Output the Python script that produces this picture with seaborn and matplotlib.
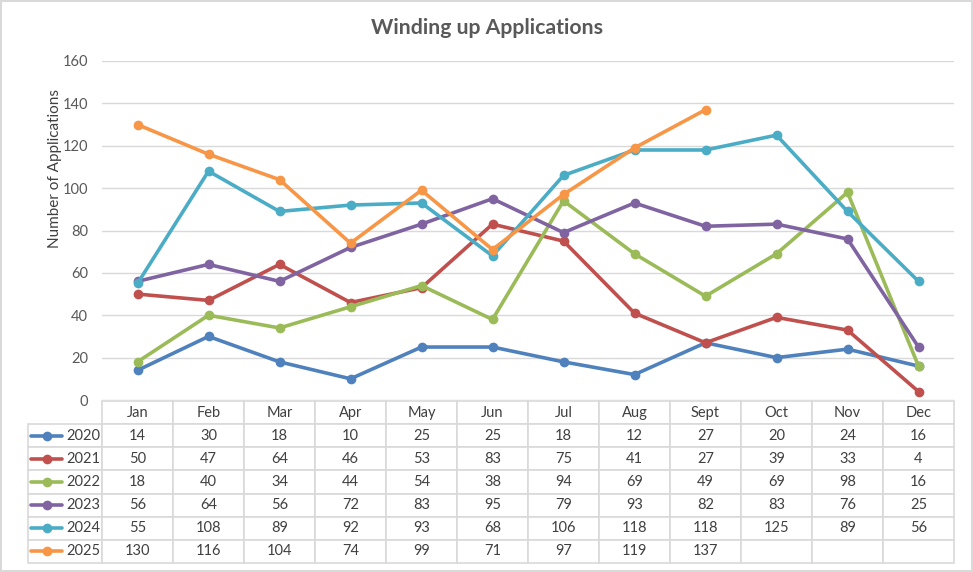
import numpy as np
import pandas as pd
import matplotlib
matplotlib.use("Agg")
import matplotlib.pyplot as plt
import seaborn as sns

months = ["Jan", "Feb", "Mar", "Apr", "May", "Jun", "Jul", "Aug", "Sept", "Oct", "Nov", "Dec"]
years = ["2020", "2021", "2022", "2023", "2024", "2025"]
v2020 = [14, 30, 18, 10, 25, 25, 18, 12, 27, 20, 24, 16]
v2021 = [50, 47, 64, 46, 53, 83, 75, 41, 27, 39, 33, 4]
v2022 = [18, 40, 34, 44, 54, 38, 94, 69, 49, 69, 98, 16]
v2023 = [56, 64, 56, 72, 83, 95, 79, 93, 82, 83, 76, 25]
v2024 = [55, 108, 89, 92, 93, 68, 106, 118, 118, 125, 89, 56]
v2025 = [130, 116, 104, 74, 99, 71, 97, 119, 137, np.nan, np.nan, np.nan]
yticks = [0, 20, 40, 60, 80, 100, 120, 140, 160]

colors = ["#4F81BD", "#C0504D", "#9BBB59", "#8064A2", "#4BACC6", "#F79646"]
series = [v2020, v2021, v2022, v2023, v2024, v2025]

rows = []
for yr, vals in zip(years, series):
    for i, v in enumerate(vals):
        rows.append({"year": yr, "pos": i, "value": v})
df = pd.DataFrame(rows)

sns.set_theme(style="white")
plt.rcParams["font.family"] = ["Lato", "DejaVu Sans"]
text_col = "#595959"

fig = plt.figure(figsize=(9.73, 5.72), dpi=100)
fig.patch.set_edgecolor("#D9D9D9")
fig.patch.set_linewidth(1.5)
ax = fig.add_axes([102 / 973, 172 / 572, 852 / 973, 339 / 572])

sns.lineplot(data=df, x="pos", y="value", hue="year", palette=colors,
             marker="o", markersize=7, markeredgewidth=0, linewidth=2.6,
             legend=False, ax=ax)

ax.set_xlim(-0.5, 11.5)
ax.set_ylim(0, 160)
ax.set_yticks(yticks)
ax.set_yticklabels([str(t) for t in yticks], color=text_col, fontsize=10.5)
ax.tick_params(axis="y", length=0, pad=10)
ax.set_xticks([])
ax.set_xlabel("")
ax.set_ylabel("Number of Applications", color="#404040", fontsize=11)
ax.yaxis.set_label_coords(-0.047, 0.684)
ax.grid(axis="y", color="#D9D9D9", linewidth=1)
for s in ax.spines.values():
    s.set_visible(False)

fig.suptitle("Winding up Applications", x=487 / 973, y=1 - 28 / 572, va="center",
             fontsize=15.3, fontweight="bold", color=text_col)

# data table below the axes
label_w = 74 / 926
col_w = 71 / 926
cell_text = []
for yr, vals in zip(years, series):
    cell_text.append([yr] + ["" if np.isnan(v) else str(int(v)) for v in vals])
tbl = ax.table(cellText=cell_text, colLabels=[""] + months, cellLoc="center",
               bbox=[-74 / 852, -163 / 339, 926 / 852, 162 / 339])
tbl.auto_set_font_size(False)
tbl.set_fontsize(10.5)
for (r, c), cell in tbl.get_celld().items():
    cell.set_edgecolor("#D9D9D9")
    cell.set_linewidth(1.2)
    cell.set_width(label_w if c == 0 else col_w)
    cell.get_text().set_color("#404040")
    if r == 0 and c == 0:
        cell.set_visible(False)
    if c == 0 and r > 0:
        cell.get_text().set_ha("right")
        cell._loc = "right"
        cell.PAD = 0.02

# legend keys inside the row label cells
row_h = 162 / 339 / 7
for i, col in enumerate(colors):
    yc = -1 / 339 - row_h * (i + 1.5)
    ax.plot([-71 / 852, -40 / 852], [yc, yc], color=col, linewidth=2.6,
            transform=ax.transAxes, clip_on=False, solid_capstyle="round")
    ax.plot([-55.5 / 852], [yc], marker="o", markersize=7, markeredgewidth=0,
            color=col, transform=ax.transAxes, clip_on=False)

fig.savefig("out.png", dpi=100)
